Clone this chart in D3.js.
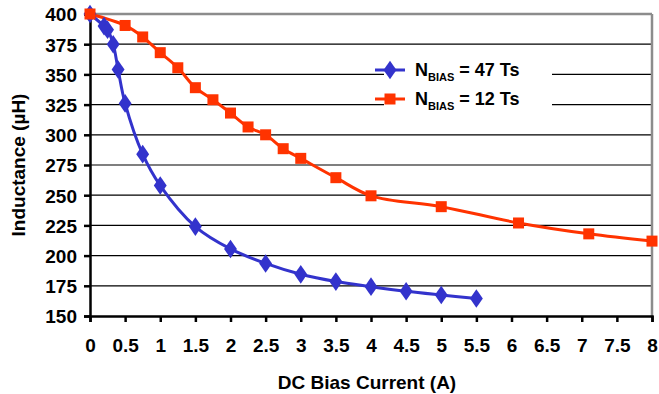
<!DOCTYPE html>
<html><head><meta charset="utf-8">
<script src="https://cdn.jsdelivr.net/npm/d3@7"></script>
<style>body{margin:0;background:#fff}svg{display:block}text{font-family:Arial,"Liberation Sans",sans-serif;font-weight:bold}</style>
</head><body>
<svg id="c" width="659" height="394"></svg>
<script>
const xTicks = [0,0.5,1,1.5,2,2.5,3,3.5,4,4.5,5,5.5,6,6.5,7,7.5,8];
const yTicks = [150,175,200,225,250,275,300,325,350,375,400];
const blueX = [0,0.2,0.25,0.33,0.4,0.5,0.75,1,1.5,2,2.5,3,3.5,4,4.5,5,5.5];
const blueY = [400,390,387,375,354,326,284,258,224,205.5,193.5,184.5,178.5,174.3,170.5,167.4,164.5];
const redX = [0,0.5,0.75,1,1.25,1.5,1.75,2,2.25,2.5,2.75,3,3.5,4,5,6.1,7.1,8];
const redY = [400,390.5,381,368,355.5,339,329,318,306.5,300,288.5,280.5,264.5,249.5,240.5,227,218,212];
const seriesNames = ["47 Ts","12 Ts"];

const svg = d3.select("#c");
const L=90,R=652,T=14,B=316;
const x = d3.scaleLinear().domain([0,8]).range([L,R]);
const y = d3.scaleLinear().domain([150,400]).range([B,T]);

svg.append("g").selectAll("line").data(yTicks.filter(v=>v>150&&v<400)).join("line")
  .attr("x1",L).attr("x2",R).attr("y1",d=>y(d)).attr("y2",d=>y(d))
  .attr("stroke","#000").attr("stroke-width",1.2);
svg.append("line").attr("x1",L).attr("x2",R).attr("y1",T).attr("y2",T).attr("stroke","#8c8c8c").attr("stroke-width",2.5);
svg.append("line").attr("x1",R).attr("x2",R).attr("y1",T).attr("y2",B).attr("stroke","#8c8c8c").attr("stroke-width",2.5);

svg.append("rect").attr("x",384).attr("y",52).attr("width",168).attr("height",66).attr("fill","#fff");

const FS=19;
const xa = svg.append("g").attr("transform",`translate(0,${B})`)
  .call(d3.axisBottom(x).tickValues(xTicks).tickSize(6).tickPadding(17).tickFormat(d3.format("")));
const ya = svg.append("g").attr("transform",`translate(${L},0)`)
  .call(d3.axisLeft(y).tickValues(yTicks).tickSize(6).tickPadding(7));
[xa,ya].forEach(a=>{a.select(".domain").attr("stroke","#000").attr("stroke-width",2.5);
  a.selectAll(".tick line").attr("stroke","#000").attr("stroke-width",2.5);
  a.selectAll("text").attr("font-size",FS).attr("font-weight","bold").attr("fill","#000").attr("font-family","Arial, 'Liberation Sans', sans-serif");});
ya.selectAll("text").attr("dy","0.36em");

svg.append("text").attr("x",367).attr("y",389).attr("text-anchor","middle").attr("font-size",FS).text("DC Bias Current (A)");
svg.append("text").attr("transform","translate(25,165) rotate(-90)").attr("text-anchor","middle").attr("font-size",FS).text("Inductance (\u00b5H)");

const line = d3.line().x(d=>x(d[0])).y(d=>y(d[1])).curve(d3.curveCatmullRom.alpha(0.5));
const blue = blueX.map((v,i)=>[v,blueY[i]]);
const red = redX.map((v,i)=>[v,redY[i]]);
const BLUE="#3333cc", RED="#ff3300";

svg.append("path").datum(red).attr("d",line).attr("fill","none").attr("stroke",RED).attr("stroke-width",3);
svg.append("path").datum(blue).attr("d",line).attr("fill","none").attr("stroke",BLUE).attr("stroke-width",3);

const diamond = d3.symbol().type(d3.symbolDiamond).size(100);
svg.append("g").selectAll("path").data(blue).join("path")
  .attr("transform",d=>`translate(${x(d[0])},${y(d[1])}) scale(1.2,1)`).attr("d",diamond).attr("fill",BLUE);
svg.append("g").selectAll("rect").data(red).join("rect")
  .attr("x",d=>x(d[0])-5.5).attr("y",d=>y(d[1])-5.5).attr("width",11).attr("height",11).attr("fill",RED);

const lg = svg.append("g");
[[BLUE,70,seriesNames[0],"d"],[RED,99,seriesNames[1],"s"]].forEach(([c,yy,name,m])=>{
  lg.append("line").attr("x1",375).attr("x2",405).attr("y1",yy).attr("y2",yy).attr("stroke",c).attr("stroke-width",3);
  if(m==="d") lg.append("path").attr("transform",`translate(390,${yy}) scale(1.2,1)`).attr("d",diamond).attr("fill",c);
  else lg.append("rect").attr("x",384.5).attr("y",yy-5.5).attr("width",11).attr("height",11).attr("fill",c);
  const t = lg.append("text").attr("x",415).attr("y",yy+6).attr("font-size",18);
  t.append("tspan").text("N");
  t.append("tspan").attr("font-size",11).attr("dy",5).text("BIAS");
  t.append("tspan").attr("dy",-5).text(" = "+name);
});
</script>
</body></html>
